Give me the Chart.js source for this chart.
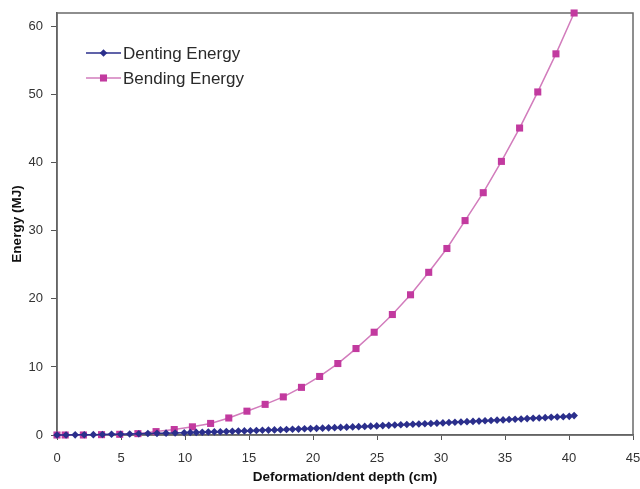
<!DOCTYPE html>
<html>
<head>
<meta charset="utf-8">
<script src="https://cdn.jsdelivr.net/npm/chart.js@4/dist/chart.umd.min.js"></script>
<style>
html,body{margin:0;padding:0;background:#fff;}
#wrap{width:640px;height:489px;position:relative;}
</style>
</head>
<body>
<div id="wrap"><canvas id="c" width="640" height="489"></canvas></div>
<script>
const seriesNames = ["Denting Energy", "Bending Energy"];
const xTitle = "Deformation/dent depth (cm)";
const yTitle = "Energy (MJ)";

const dentX = [0, 0.71, 1.42, 2.13, 2.84, 3.55, 4.26, 4.97, 5.68, 6.39, 7.1, 7.81, 8.52, 9.23, 9.94,
  10.41, 10.88, 11.35, 11.82, 12.29, 12.76, 13.23, 13.7, 14.17, 14.64, 15.11, 15.58, 16.05, 16.52, 16.99,
  17.46, 17.93, 18.4, 18.87, 19.34, 19.81, 20.28, 20.75, 21.22, 21.69, 22.16, 22.63, 23.1, 23.57, 24.04,
  24.51, 24.98, 25.45, 25.92, 26.39, 26.86, 27.33, 27.8, 28.27, 28.74, 29.21, 29.68, 30.15, 30.62, 31.09,
  31.56, 32.03, 32.5, 32.97, 33.44, 33.91, 34.38, 34.85, 35.32, 35.79, 36.26, 36.73, 37.2, 37.67, 38.14,
  38.61, 39.08, 39.55, 40.02, 40.4];
const dentY = [0, 0.01, 0.02, 0.03, 0.05, 0.07, 0.1, 0.12, 0.15, 0.18, 0.21, 0.24, 0.27, 0.3, 0.33,
  0.36, 0.38, 0.41, 0.43, 0.46, 0.48, 0.51, 0.54, 0.57, 0.6, 0.63, 0.66, 0.69, 0.72, 0.75,
  0.78, 0.81, 0.84, 0.87, 0.91, 0.94, 0.98, 1.01, 1.05, 1.08, 1.12, 1.15, 1.19, 1.23, 1.26,
  1.3, 1.34, 1.38, 1.42, 1.46, 1.5, 1.54, 1.58, 1.62, 1.66, 1.7, 1.74, 1.78, 1.83, 1.87,
  1.91, 1.96, 2.0, 2.04, 2.09, 2.13, 2.18, 2.22, 2.27, 2.31, 2.36, 2.41, 2.45, 2.5, 2.55,
  2.6, 2.64, 2.69, 2.74, 2.85];

const bendX = [0, 0.64, 2.06, 3.48, 4.9, 6.32, 7.74, 9.16, 10.58, 12.0, 13.42, 14.84, 16.26, 17.68, 19.1,
  20.52, 21.94, 23.36, 24.78, 26.2, 27.62, 29.04, 30.46, 31.88, 33.3, 34.72, 36.14, 37.56, 38.98, 40.4];
const bendY = [0, 0, 0, 0.05, 0.1, 0.2, 0.5, 0.8, 1.2, 1.7, 2.5, 3.5, 4.5, 5.6, 7.0,
  8.6, 10.5, 12.7, 15.1, 17.7, 20.6, 23.9, 27.4, 31.5, 35.6, 40.2, 45.1, 50.4, 56.0, 62.0];

const xTicks = [0, 5, 10, 15, 20, 25, 30, 35, 40, 45];
const yTicks = [0, 10, 20, 30, 40, 50, 60];

const dentColor = "#2b2f8c";
const bendMarker = "#c23a9f";
const bendLine = "#d27cbc";
const FONT = "'Liberation Sans', Arial, sans-serif";

const toPts = (xs, ys) => xs.map((x, i) => ({x: x, y: ys[i]}));

const frame = {
  id: 'frame',
  beforeDatasetsDraw(chart) {
    const a = chart.chartArea, ctx = chart.ctx;
    ctx.save();
    ctx.strokeStyle = '#6a6a6a';
    ctx.lineWidth = 1.5;
    ctx.strokeRect(a.left, a.top, a.right - a.left, a.bottom - a.top);
    ctx.restore();
  }
};

const legendIn = {
  id: 'legendIn',
  afterDraw(chart) {
    const ctx = chart.ctx;
    const items = [
      {name: seriesNames[0], line: dentColor, mark: dentColor, style: 'rectRot', r: 3.8, y: 53},
      {name: seriesNames[1], line: bendLine, mark: bendMarker, style: 'rect', r: 5, y: 78}
    ];
    ctx.save();
    items.forEach(it => {
      ctx.strokeStyle = it.line;
      ctx.lineWidth = 1.5;
      ctx.beginPath();
      ctx.moveTo(86, it.y);
      ctx.lineTo(121, it.y);
      ctx.stroke();
      ctx.fillStyle = it.mark;
      Chart.helpers.drawPoint(ctx, {pointStyle: it.style, radius: it.r, borderWidth: 0}, 103.5, it.y);
      ctx.fillStyle = '#2a2a2a';
      ctx.font = "17px " + FONT;
      ctx.textBaseline = 'middle';
      ctx.fillText(it.name, 123, it.y + 1);
    });
    ctx.restore();
  }
};

new Chart(document.getElementById('c'), {
  type: 'scatter',
  data: {
    datasets: [
      {
        label: seriesNames[0],
        data: toPts(dentX, dentY),
        showLine: true,
        borderColor: dentColor,
        backgroundColor: dentColor,
        borderWidth: 1.5,
        pointStyle: 'rectRot',
        pointRadius: 3.8,
        pointBorderWidth: 0,
        clip: false,
        order: 1
      },
      {
        label: seriesNames[1],
        data: toPts(bendX, bendY),
        showLine: true,
        borderColor: bendLine,
        backgroundColor: bendMarker,
        pointBackgroundColor: bendMarker,
        borderWidth: 1.5,
        pointStyle: 'rect',
        pointRadius: 5,
        pointBorderWidth: 0,
        clip: false,
        order: 2
      }
    ]
  },
  plugins: [frame, legendIn],
  options: {
    responsive: false,
    animation: false,
    devicePixelRatio: 1,
    layout: {padding: {top: 13, right: 7, left: 0, bottom: 0}},
    plugins: {legend: {display: false}, tooltip: {enabled: false}},
    scales: {
      x: {
        type: 'linear',
        min: 0, max: 45,
        afterBuildTicks: s => { s.ticks = xTicks.map(v => ({value: v})); },
        afterFit: s => { s.height = 54; s.paddingRight = 0; s.paddingLeft = 0; },
        grid: {display: true, drawOnChartArea: false, drawTicks: true, tickLength: 5, color: '#555', tickWidth: 1},
        border: {display: true, color: '#555', width: 1.5},
        ticks: {color: '#333', font: {family: FONT, size: 13}, padding: 11, maxRotation: 0},
        title: {display: true, text: xTitle, color: '#111', font: {family: FONT, size: 13.5, weight: 'bold'}, padding: {top: 2, bottom: 4}}
      },
      y: {
        type: 'linear',
        min: 0, max: 62,
        afterBuildTicks: s => { s.ticks = yTicks.map(v => ({value: v})); },
        afterFit: s => { s.width = 57; s.paddingTop = 0; s.paddingBottom = 0; },
        grid: {display: true, drawOnChartArea: false, drawTicks: true, tickLength: 6, color: '#555', tickWidth: 1},
        border: {display: true, color: '#555', width: 1.5},
        ticks: {color: '#333', font: {family: FONT, size: 13}, padding: 8},
        title: {display: true, text: yTitle, color: '#111', font: {family: FONT, size: 13.5, weight: 'bold'}, padding: {top: 9, bottom: 0}}
      }
    }
  }
});
</script>
</body>
</html>
